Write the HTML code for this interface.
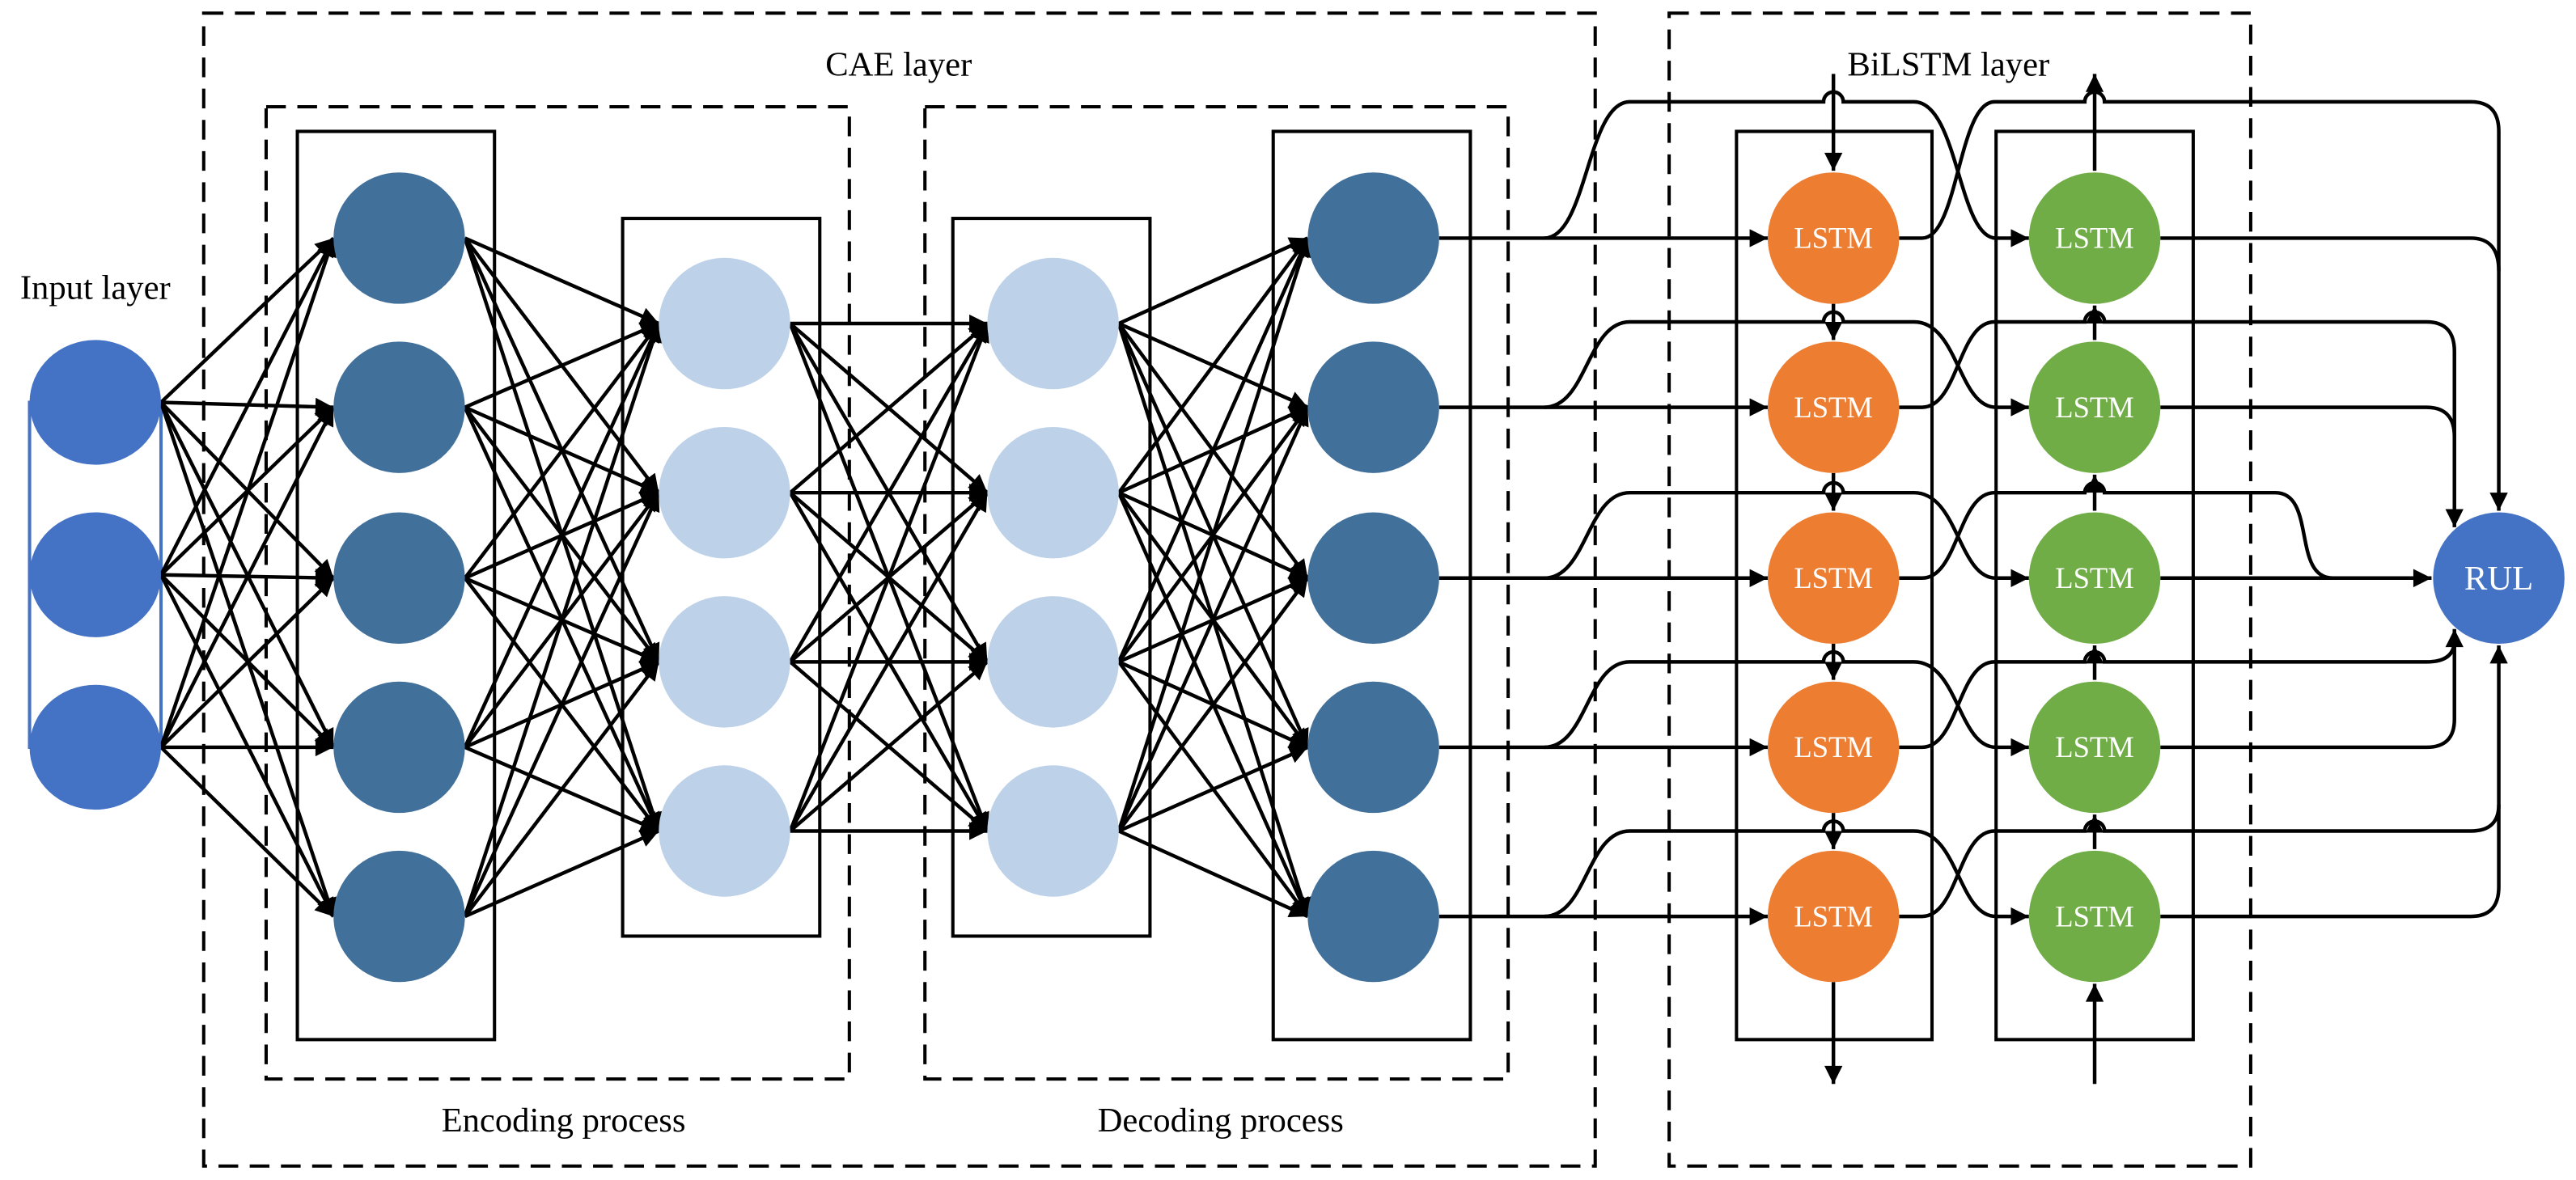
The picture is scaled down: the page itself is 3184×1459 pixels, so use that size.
<!DOCTYPE html>
<html><head><meta charset="utf-8"><style>html,body{margin:0;padding:0;background:#fff}svg{display:block}text{font-family:"Liberation Serif",serif}</style></head><body>
<svg width="3184" height="1459" viewBox="0 0 1568 718.5" xmlns="http://www.w3.org/2000/svg">
<defs><marker id="a" viewBox="0 0 10 10" refX="10" refY="5" markerWidth="15" markerHeight="11" markerUnits="userSpaceOnUse" orient="auto"><path d="M0 0L10 5L0 10z" fill="#000"/></marker></defs>
<rect width="1568" height="718.5" fill="#fff"/>
<g fill="none" stroke="#000" stroke-width="2" stroke-dasharray="12 7">
<rect x="124" y="8" width="847" height="702"/>
<rect x="162" y="65" width="355" height="592"/>
<rect x="563" y="65" width="355" height="592"/>
<rect x="1016" y="8" width="354" height="702"/>
</g>
<g fill="none" stroke="#000" stroke-width="2">
<rect x="181" y="80" width="120" height="553"/>
<rect x="379" y="133" width="120" height="437"/>
<rect x="580" y="133" width="120" height="437"/>
<rect x="775" y="80" width="120" height="553"/>
<rect x="1057" y="80" width="119" height="553"/>
<rect x="1215" y="80" width="120" height="553"/>
</g>
<rect x="18" y="245" width="80" height="210" fill="none" stroke="#4472c4" stroke-width="2"/>
<g stroke="#000" stroke-width="2.2" fill="none" marker-end="url(#a)">
<path d="M98 245L203 145"/><path d="M98 245L203 248"/><path d="M98 245L203 352"/><path d="M98 245L203 455"/><path d="M98 245L203 558"/>
<path d="M98 350L203 145"/><path d="M98 350L203 248"/><path d="M98 350L203 352"/><path d="M98 350L203 455"/><path d="M98 350L203 558"/>
<path d="M98 455L203 145"/><path d="M98 455L203 248"/><path d="M98 455L203 352"/><path d="M98 455L203 455"/><path d="M98 455L203 558"/>
<path d="M283 145L401 197"/><path d="M283 145L401 300"/><path d="M283 145L401 403"/><path d="M283 145L401 506"/>
<path d="M283 248L401 197"/><path d="M283 248L401 300"/><path d="M283 248L401 403"/><path d="M283 248L401 506"/>
<path d="M283 352L401 197"/><path d="M283 352L401 300"/><path d="M283 352L401 403"/><path d="M283 352L401 506"/>
<path d="M283 455L401 197"/><path d="M283 455L401 300"/><path d="M283 455L401 403"/><path d="M283 455L401 506"/>
<path d="M283 558L401 197"/><path d="M283 558L401 300"/><path d="M283 558L401 403"/><path d="M283 558L401 506"/>
<path d="M481 197L601 197"/><path d="M481 197L601 300"/><path d="M481 197L601 403"/><path d="M481 197L601 506"/>
<path d="M481 300L601 197"/><path d="M481 300L601 300"/><path d="M481 300L601 403"/><path d="M481 300L601 506"/>
<path d="M481 403L601 197"/><path d="M481 403L601 300"/><path d="M481 403L601 403"/><path d="M481 403L601 506"/>
<path d="M481 506L601 197"/><path d="M481 506L601 300"/><path d="M481 506L601 403"/><path d="M481 506L601 506"/>
<path d="M681 197L796 145"/><path d="M681 197L796 248"/><path d="M681 197L796 352"/><path d="M681 197L796 455"/><path d="M681 197L796 558"/>
<path d="M681 300L796 145"/><path d="M681 300L796 248"/><path d="M681 300L796 352"/><path d="M681 300L796 455"/><path d="M681 300L796 558"/>
<path d="M681 403L796 145"/><path d="M681 403L796 248"/><path d="M681 403L796 352"/><path d="M681 403L796 455"/><path d="M681 403L796 558"/>
<path d="M681 506L796 145"/><path d="M681 506L796 248"/><path d="M681 506L796 352"/><path d="M681 506L796 455"/><path d="M681 506L796 558"/>
<path d="M876 145H1076"/><path d="M876 248H1076"/><path d="M876 352H1076"/><path d="M876 455H1076"/><path d="M876 558H1076"/>
<path d="M940 145C966 145 966 62 992 62H1110A6 6 0 0 1 1122 62H1165C1192 62 1192 145 1215 145H1235"/>
<path d="M940 248C966 248 966 196 992 196H1110A6 6 0 0 1 1122 196H1165C1192 196 1192 248 1215 248H1235"/>
<path d="M940 352C966 352 966 300 992 300H1110A6 6 0 0 1 1122 300H1165C1192 300 1192 352 1215 352H1235"/>
<path d="M940 455C966 455 966 403 992 403H1110A6 6 0 0 1 1122 403H1165C1192 403 1192 455 1215 455H1235"/>
<path d="M940 558C966 558 966 506 992 506H1110A6 6 0 0 1 1122 506H1165C1192 506 1192 558 1215 558H1235"/>
<path d="M1116 45V104"/><path d="M1116 185V207"/><path d="M1116 288V311"/><path d="M1116 392V414"/><path d="M1116 495V517"/><path d="M1116 598V660"/>
<path d="M1275 660V599"/><path d="M1275 517V496"/><path d="M1275 414V393"/><path d="M1275 311V289"/><path d="M1275 207V186"/><path d="M1275 104V45"/>
<path d="M1156 145H1170C1192 145 1192 62 1214 62H1269A6 6 0 0 1 1281 62H1504Q1521 62 1521 80V311"/>
<path d="M1156 248H1170C1192 248 1192 196 1214 196H1269A6 6 0 0 1 1281 196H1477Q1494 196 1494 214V321"/>
<path d="M1156 352H1170C1192 352 1192 300 1214 300H1269A6 6 0 0 1 1281 300H1385C1410 300 1395 352 1420 352H1480"/>
<path d="M1315 352H1480"/>
<path d="M1315 455H1477Q1494 455 1494 438V383"/>
<path d="M1315 558H1504Q1521 558 1521 540V393"/>
</g>
<g stroke="#000" stroke-width="2.2" fill="none">
<path d="M1315 145H1504Q1521 145 1521 165"/>
<path d="M1315 248H1477Q1494 248 1494 266"/>
<path d="M1156 455H1170C1192 455 1192 403 1214 403H1269A6 6 0 0 1 1281 403H1477Q1494 403 1494 390"/>
<path d="M1156 558H1170C1192 558 1192 506 1214 506H1269A6 6 0 0 1 1281 506H1504Q1521 506 1521 490"/>
</g>
<g fill="#4472c4"><ellipse cx="58" cy="245" rx="40" ry="38"/><ellipse cx="58" cy="350" rx="40" ry="38"/><ellipse cx="58" cy="455" rx="40" ry="38"/></g>
<g fill="#41709b"><circle cx="243" cy="145" r="40"/><circle cx="243" cy="248" r="40"/><circle cx="243" cy="352" r="40"/><circle cx="243" cy="455" r="40"/><circle cx="243" cy="558" r="40"/>
<circle cx="836" cy="145" r="40"/><circle cx="836" cy="248" r="40"/><circle cx="836" cy="352" r="40"/><circle cx="836" cy="455" r="40"/><circle cx="836" cy="558" r="40"/></g>
<g fill="#bdd1e9"><circle cx="441" cy="197" r="40"/><circle cx="441" cy="300" r="40"/><circle cx="441" cy="403" r="40"/><circle cx="441" cy="506" r="40"/>
<circle cx="641" cy="197" r="40"/><circle cx="641" cy="300" r="40"/><circle cx="641" cy="403" r="40"/><circle cx="641" cy="506" r="40"/></g>
<g fill="#ed7d31"><circle cx="1116" cy="145" r="40"/><circle cx="1116" cy="248" r="40"/><circle cx="1116" cy="352" r="40"/><circle cx="1116" cy="455" r="40"/><circle cx="1116" cy="558" r="40"/></g>
<g fill="#70ad47"><circle cx="1275" cy="145" r="40"/><circle cx="1275" cy="248" r="40"/><circle cx="1275" cy="352" r="40"/><circle cx="1275" cy="455" r="40"/><circle cx="1275" cy="558" r="40"/></g>
<circle cx="1521" cy="352" r="40" fill="#4472c4"/>
<g fill="#fff" font-size="18" text-anchor="middle">
<text x="1116" y="151">LSTM</text><text x="1116" y="254">LSTM</text><text x="1116" y="358">LSTM</text><text x="1116" y="461">LSTM</text><text x="1116" y="564">LSTM</text>
<text x="1275" y="151">LSTM</text><text x="1275" y="254">LSTM</text><text x="1275" y="358">LSTM</text><text x="1275" y="461">LSTM</text><text x="1275" y="564">LSTM</text>
<text x="1521" y="359" font-size="21">RUL</text></g>
<g fill="#000" font-size="21" text-anchor="middle">
<text x="58" y="182">Input layer</text>
<text x="547" y="46">CAE layer</text>
<text x="1186" y="46">BiLSTM layer</text>
<text x="343" y="689">Encoding process</text>
<text x="743" y="689">Decoding process</text>
</g>
</svg>
</body></html>
